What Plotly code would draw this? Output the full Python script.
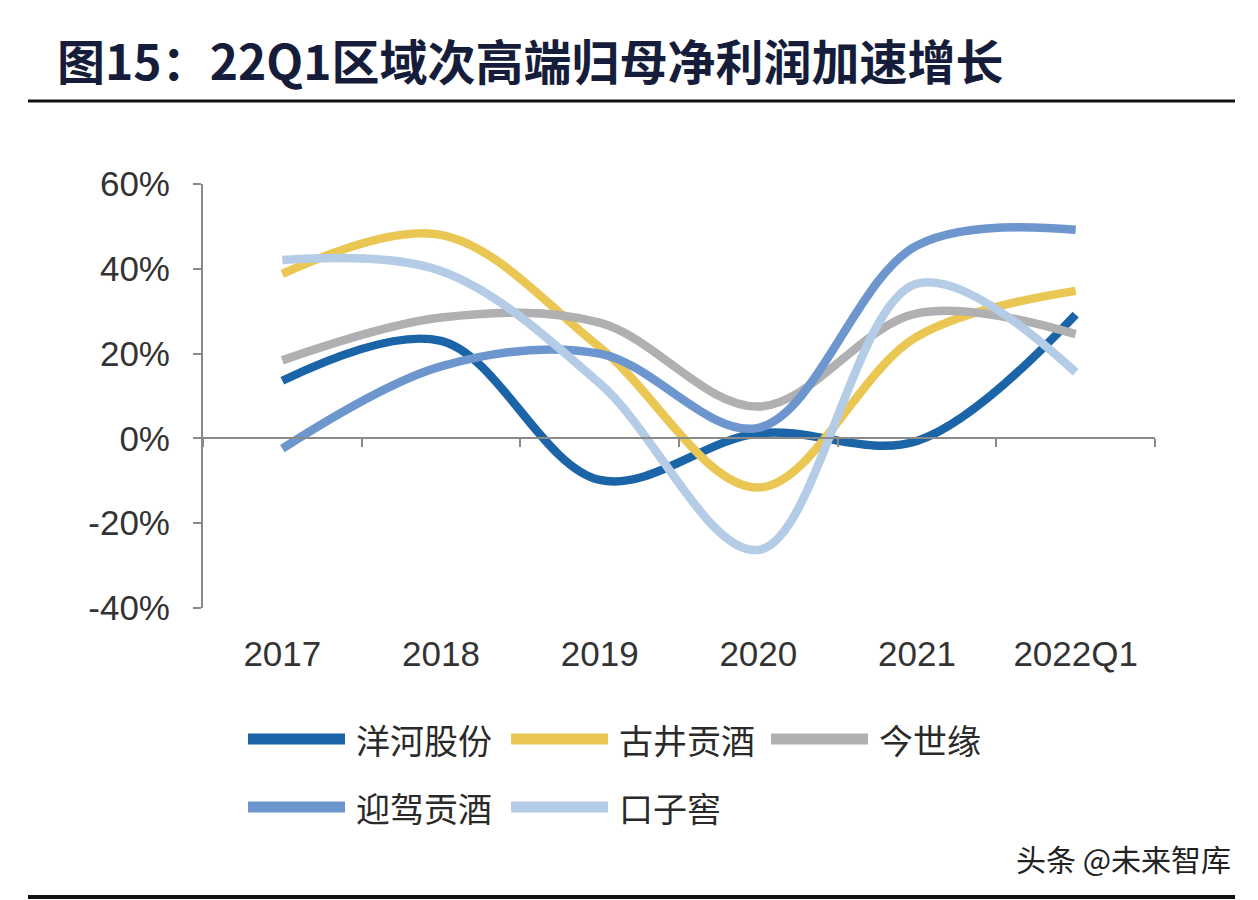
import plotly.graph_objects as go

# ---- data ----
categories = ["2017", "2018", "2019", "2020", "2021", "2022Q1"]
series_names = ["洋河股份", "古井贡酒", "今世缘", "迎驾贡酒", "口子窖"]
yanghe = [13.6, 23.0, -9.8, 1.2, -0.6, 29.2]
gujing = [38.8, 48.0, 21.5, -11.6, 24.0, 34.8]
jinshiyuan = [18.4, 28.5, 27.3, 7.5, 29.5, 24.6]
yingjia = [-2.4, 17.0, 20.0, 2.5, 45.5, 49.2]
kouzijiao = [42.1, 39.5, 13.0, -26.3, 36.5, 15.6]
y_ticks = [-40, -20, 0, 20, 40, 60]
y_tick_labels = ["-40%", "-20%", "0%", "20%", "40%", "60%"]

series_values = [yanghe, gujing, jinshiyuan, yingjia, kouzijiao]
colors = ["#1B64A7", "#EAC653", "#B0B0B2", "#6E96CE", "#B5CCE7"]

OFF = 8  # page body margin of the browser
W, H = 1258 - OFF, 900 - OFF
L, R, T, B = 203 - OFF, 1155 - OFF, 184 - OFF, 608 - OFF  # plot area in figure pixels


def xp(px):
    """reference-image pixel x -> paper coordinate"""
    return (px - OFF - L) / (R - L)


def yp(py):
    """reference-image pixel y -> paper coordinate"""
    return (B - (py - OFF)) / (B - T)


fig = go.Figure()
for name, vals, col in zip(series_names, series_values, colors):
    fig.add_trace(go.Scatter(
        x=categories, y=vals, name=name, mode="lines",
        line=dict(color=col, width=8.5, shape="spline", smoothing=1.0),
        showlegend=False, hoverinfo="x+y+name",
    ))

# helper trace so the overlay axis (zero line with boundary ticks) has categories
fig.add_trace(go.Scatter(x=categories, y=[None] * len(categories), xaxis="x2",
                         showlegend=False, hoverinfo="skip", mode="lines"))

axis_gray = "#8A8A8A"
text_col = "#333333"
zero_pos = (0 - y_ticks[0]) / (y_ticks[-1] - y_ticks[0])

fig.update_layout(
    width=W, height=H, autosize=False,
    margin=dict(l=L, r=W - R, t=T, b=H - B, pad=0),
    paper_bgcolor="white", plot_bgcolor="white",
    font=dict(family="Liberation Sans, Arial, sans-serif", color=text_col),
    title=dict(
        text="<b>图15：22Q1区域次高端归母净利润加速增长</b>",
        font=dict(family="Noto Sans CJK SC", size=48, color="#161D3A"),
        x=(57 - OFF) / W, xanchor="left", xref="container",
        y=1 - (63 - OFF) / H, yanchor="middle", yref="container",
    ),
    xaxis=dict(
        type="category", categoryorder="array", categoryarray=categories,
        range=[-0.5, len(categories) - 0.5],
        showline=False, showgrid=False, zeroline=False, ticks="",
        tickfont=dict(size=35, color=text_col, family="Liberation Sans, Arial"),
        ticklabelstandoff=22,
    ),
    xaxis2=dict(
        type="category", categoryorder="array", categoryarray=categories,
        range=[-0.5, len(categories) - 0.5],
        overlaying="x", anchor="free", position=zero_pos,
        showline=True, linecolor=axis_gray, linewidth=2,
        ticks="outside", tickson="boundaries", ticklen=8, tickwidth=2, tickcolor=axis_gray,
        showticklabels=False, showgrid=False, zeroline=False,
    ),
    yaxis=dict(
        range=[y_ticks[0], y_ticks[-1]], tickmode="array",
        tickvals=y_ticks, ticktext=y_tick_labels,
        showline=True, linecolor=axis_gray, linewidth=2,
        ticks="outside", ticklen=8, tickwidth=2, tickcolor=axis_gray,
        showgrid=False, zeroline=False,
        tickfont=dict(size=35, color=text_col, family="Liberation Sans, Arial"),
        ticklabelstandoff=16,
    ),
)

shapes = []
annotations = []
# rules under title and at bottom
shapes.append(dict(type="line", xref="paper", yref="paper",
                   x0=xp(28), x1=xp(1235), y0=yp(101), y1=yp(101),
                   line=dict(color="#111111", width=3)))
shapes.append(dict(type="line", xref="paper", yref="paper",
                   x0=xp(28), x1=xp(1235), y0=yp(897), y1=yp(897),
                   line=dict(color="#111111", width=4)))

# custom legend (long swatches like the reference)
col_x = [248, 511, 771]
row_y = [739, 807]
for i, (name, col) in enumerate(zip(series_names, colors)):
    x0 = col_x[i % 3]
    y0 = row_y[i // 3]
    shapes.append(dict(type="line", xref="paper", yref="paper",
                       x0=xp(x0), x1=xp(x0 + 97), y0=yp(y0), y1=yp(y0),
                       line=dict(color=col, width=11)))
    annotations.append(dict(xref="paper", yref="paper", x=xp(x0 + 106), y=yp(y0),
                            text=name, showarrow=False, xanchor="left", yanchor="middle",
                            font=dict(family="Noto Sans CJK SC", size=34, color="#2A2A2A")))

# watermark
annotations.append(dict(xref="paper", yref="paper", x=xp(1233), y=yp(858),
                        text="头条 @未来智库", showarrow=False, xanchor="right", yanchor="middle",
                        font=dict(family="Noto Sans CJK SC", size=30, color="#222222")))

fig.update_layout(shapes=shapes, annotations=annotations)
fig.write_html("out.html")
